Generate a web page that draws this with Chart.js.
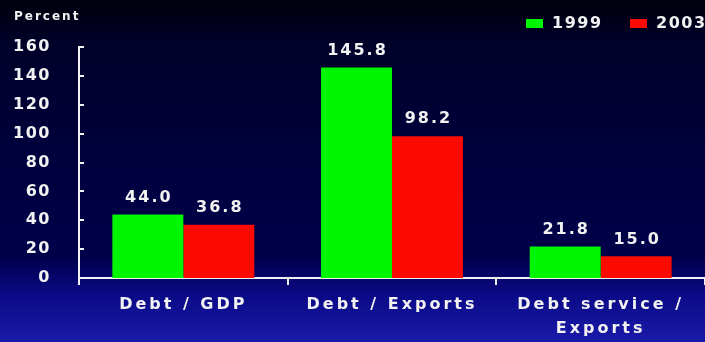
<!DOCTYPE html>
<html>
<head>
<meta charset="utf-8">
<script src="https://cdn.jsdelivr.net/npm/chart.js@4"></script>
<style>
  html, body { margin: 0; padding: 0; }
  body {
    width: 705px; height: 342px; overflow: hidden;
    background: linear-gradient(to bottom, #00000c 0%, #000028 12%, #00003c 45%, #00004a 75%, #0a0a86 86%, #1a1aaa 100%);
  }
  #wrap { position: relative; width: 705px; height: 342px; }
</style>
</head>
<body>
<div id="wrap"><canvas id="c" width="705" height="342"></canvas></div>
<script>
const categories = [['Debt / GDP'], ['Debt / Exports'], ['Debt service /', 'Exports']];
const seriesNames = ['1999', '2003'];
const values1999 = [44.0, 145.8, 21.8];
const values2003 = [36.8, 98.2, 15.0];
const yTickValues = [0, 20, 40, 60, 80, 100, 120, 140, 160];
const yTitle = 'Percent';

const FONT = "'DejaVu Sans', sans-serif";
const WHITE = '#f2f2f2';

function setSpacing(ctx, v) { try { ctx.letterSpacing = v; } catch (e) {} }

const spacingPlugin = {
  id: 'spacing',
  beforeDraw(chart) { setSpacing(chart.ctx, '1.5px'); }
};

const decorPlugin = {
  id: 'decor',
  afterDatasetsDraw(chart) {
    const ctx = chart.ctx;
    ctx.save();
    setSpacing(ctx, '2px');
    ctx.fillStyle = WHITE;
    ctx.font = "bold 16px " + FONT;
    ctx.textAlign = 'center';
    ctx.textBaseline = 'middle';
    chart.data.datasets.forEach((ds, di) => {
      chart.getDatasetMeta(di).data.forEach((bar, i) => {
        ctx.fillText(ds.data[i].toFixed(1), bar.x + 1, bar.y - 17);
      });
    });
    ctx.restore();
  },
  afterDraw(chart) {
    const ctx = chart.ctx;
    const y = chart.scales.y;
    const area = chart.chartArea;
    ctx.save();
    ctx.strokeStyle = WHITE;
    ctx.lineWidth = 2;
    yTickValues.forEach(v => {
      const py = Math.round(y.getPixelForValue(v));
      ctx.beginPath();
      ctx.moveTo(area.left, py);
      ctx.lineTo(area.left + 5, py);
      ctx.stroke();
    });
    setSpacing(ctx, '2px');
    ctx.fillStyle = WHITE;
    ctx.font = "bold 12px " + FONT;
    ctx.textAlign = 'left';
    ctx.textBaseline = 'middle';
    ctx.fillText(yTitle, 14, 17);
    ctx.font = "bold 16px " + FONT;
    setSpacing(ctx, '1.5px');
    const legendX = [526, 630];
    chart.data.datasets.forEach((ds, i) => {
      ctx.fillStyle = ds.backgroundColor;
      ctx.fillRect(legendX[i], 19, 17, 9);
      ctx.fillStyle = WHITE;
      ctx.fillText(ds.label, legendX[i] + 26, 23.5);
    });
    ctx.restore();
  }
};

new Chart(document.getElementById('c'), {
  type: 'bar',
  data: {
    labels: categories,
    datasets: [
      { label: seriesNames[0], data: values1999, backgroundColor: '#00f500' },
      { label: seriesNames[1], data: values2003, backgroundColor: '#fa0a00' }
    ]
  },
  options: {
    responsive: false,
    animation: false,
    devicePixelRatio: 1,
    layout: { padding: { top: 47, left: 0, right: 0, bottom: 0 } },
    plugins: { legend: { display: false }, tooltip: { enabled: false } },
    datasets: { bar: { categoryPercentage: 0.68, barPercentage: 1.0 } },
    scales: {
      x: {
        grid: { display: true, drawOnChartArea: false, drawTicks: true, tickLength: 7, color: WHITE, lineWidth: 2, offset: true },
        border: { display: true, color: WHITE, width: 2 },
        ticks: { color: WHITE, font: { family: FONT, size: 16, weight: 'bold', lineHeight: 1.55 }, padding: 7, maxRotation: 0, autoSkip: false },
        afterFit(s) { s.height = 64; },
        afterUpdate(s) {
          if (!s._wrapped) {
            const orig = s.draw.bind(s);
            s.draw = function (a) {
              const ctx = s.ctx;
              ctx.save();
              setSpacing(ctx, '3px');
              orig(a);
              ctx.restore();
            };
            s._wrapped = true;
          }
        }
      },
      y: {
        min: 0, max: 160,
        afterBuildTicks(s) { s.ticks = yTickValues.map(v => ({ value: v })); },
        grid: { display: false, drawTicks: false },
        border: { display: true, color: WHITE, width: 2 },
        ticks: { color: WHITE, font: { family: FONT, size: 16, weight: 'bold' }, padding: 28 },
        afterFit(s) { s.width = 79; }
      }
    }
  },
  plugins: [spacingPlugin, decorPlugin]
});
</script>
</body>
</html>
